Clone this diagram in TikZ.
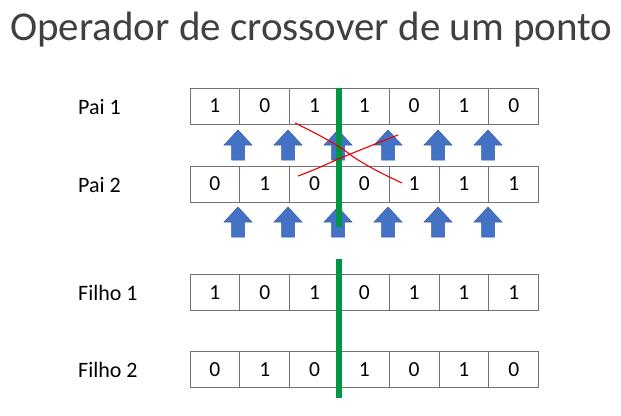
\documentclass[tikz,border=0pt]{standalone}
\usepackage{fontspec}
\setmainfont{Carlito}
\begin{document}
\begin{tikzpicture}[x=1pt,y=-1pt,
  cell/.style={draw=black!55,line width=0.8pt,minimum width=49.8pt,minimum height=36pt,inner sep=0pt,font=\fontsize{21.5}{21.5}\selectfont},
  lbl/.style={anchor=base west,inner sep=0pt,font=\fontsize{22}{22}\selectfont},
  uparrow/.style={fill=arrowblue,draw=arrowedge,line width=0.5pt},
  cutline/.style={draw=cutgreen,line width=6.5pt},
  xline/.style={draw=red!90!black,line width=1.1pt}]
\definecolor{arrowblue}{RGB}{68,114,196}
\definecolor{arrowedge}{RGB}{52,92,165}
\definecolor{cutgreen}{RGB}{0,150,70}
\useasboundingbox (0,0) rectangle (621,415);
\node[anchor=base west,inner sep=0pt,text=black!75,font=\fontsize{41}{41}\selectfont] (title) at (10,40) {Operador de crossover de um ponto};
% labels
\node[lbl] (l1) at (78,114) {Pai 1};
\node[lbl] (l2) at (78,192.5) {Pai 2};
\node[lbl] (l3) at (78,300.5) {Filho 1};
\node[lbl] (l4) at (78,377.5) {Filho 2};
% cells
\foreach \v [count=\i] in {1,0,1,1,0,1,0}
  \node[cell] (a\i) at ({190+49.8*(\i-0.5)},106) {\v};
\foreach \v [count=\i] in {0,1,0,0,1,1,1}
  \node[cell] (b\i) at ({190+49.8*(\i-0.5)},184) {\v};
\foreach \v [count=\i] in {1,0,1,0,1,1,1}
  \node[cell] (c\i) at ({190+49.8*(\i-0.5)},292.5) {\v};
\foreach \v [count=\i] in {0,1,0,1,0,1,0}
  \node[cell] (d\i) at ({190+49.8*(\i-0.5)},369.5) {\v};
% arrows
\foreach \row in {130,207}
  \foreach \k in {0,...,5}
    \path[uparrow] ({238+50*\k},\row) -- ({252+50*\k},{\row+15}) -- ({244.5+50*\k},{\row+15}) -- ({244.5+50*\k},{\row+30})
      -- ({231.5+50*\k},{\row+30}) -- ({231.5+50*\k},{\row+15}) -- ({224+50*\k},{\row+15}) -- cycle;
% green cut line
\coordinate (g1) at (339,88);
\coordinate (g2) at (339,227);
\coordinate (g3) at (339,259);
\coordinate (g4) at (339,398);
\draw[cutline] (g1) -- (g2);
\draw[cutline] (g3) -- (g4);
% red cross
\coordinate (r1) at (295,123);
\coordinate (r2) at (402,183);
\coordinate (r3) at (298,176);
\coordinate (r4) at (398,135);
\draw[xline] (r1) .. controls (330,140) and (345,150) .. (352,156) .. controls (370,168) and (385,175) .. (r2);
\draw[xline] (r3) .. controls (320,168) and (335,160) .. (348,155) .. controls (365,148) and (385,140) .. (r4);
\end{tikzpicture}
\end{document}
